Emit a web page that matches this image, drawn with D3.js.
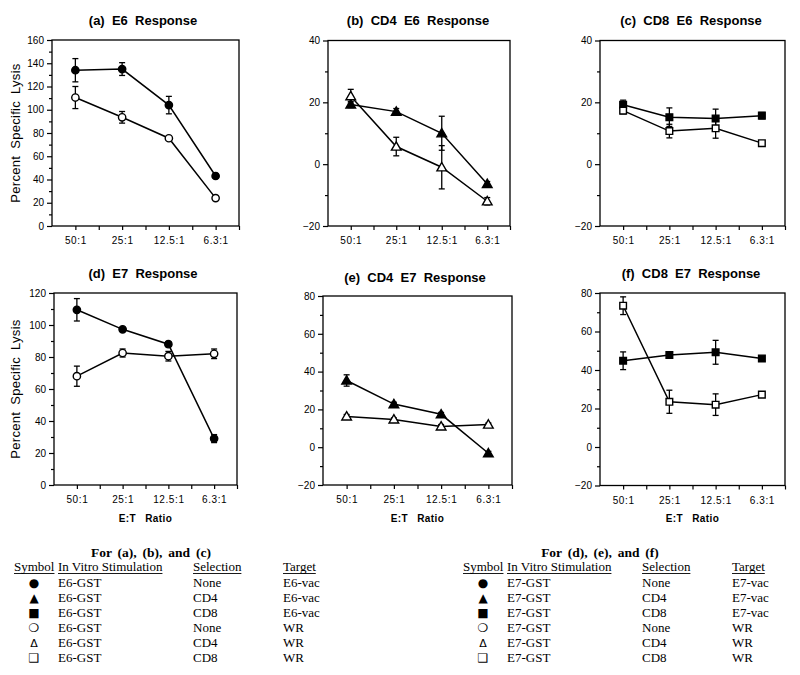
<!DOCTYPE html>
<html><head><meta charset="utf-8">
<script src="https://cdn.jsdelivr.net/npm/d3@7"></script>
<style>
html,body{margin:0;padding:0;background:#fff;}
svg{display:block;}
</style></head>
<body>
<svg id="chart" width="800" height="675"></svg>
<script>
// ---------- data ----------
const ratios = ["50:1", "25:1", "12.5:1", "6.3:1"];

// (a) E6 response
const aNoneE6vac = [134, 135, 104, 43];
const aNoneE6vacErr = [10, 5.5, 7.5, 1];
const aNoneWR = [110.5, 93.5, 75.5, 24];
const aNoneWRErr = [9.5, 5, 1.5, 1];
// (b) CD4 E6 response
const bCD4E6vac = [19.3, 17, 10, -6.4];
const bCD4E6vacErr = [1, 1, 5.5, 0.8];
const bCD4WR = [22, 5.7, -1, -12];
const bCD4WRErr = [2.2, 3, 7, 1.2];
// (c) CD8 E6 response
const cCD8E6vac = [19.2, 15.2, 14.8, 15.7];
const cCD8E6vacErr = [1.5, 3, 3, 1];
const cCD8WR = [17.3, 10.7, 11.6, 6.8];
const cCD8WRErr = [1, 2.2, 3.2, 0.8];
// (d) E7 response
const dNoneE7vac = [109.5, 97.3, 88, 29];
const dNoneE7vacErr = [7, 1, 1.5, 2.5];
const dNoneWR = [68, 82.5, 80.5, 82];
const dNoneWRErr = [6.3, 2.5, 3, 3];
// (e) CD4 E7 response
const eCD4E7vac = [35.3, 22.8, 17.4, -3.2];
const eCD4E7vacErr = [3, 1, 1, 1];
const eCD4WR = [16.3, 14.7, 11, 12];
const eCD4WRErr = [1, 0.8, 1, 0.8];
// (f) CD8 E7 response
const fCD8E7vac = [44.8, 47.8, 49.2, 46];
const fCD8E7vacErr = [4.6, 1, 6.2, 0.8];
const fCD8WR = [73.4, 23.5, 22, 27.2];
const fCD8WRErr = [4.6, 6, 5.6, 1];

const panelTitles = ["(a)  E6  Response", "(b)  CD4  E6  Response", "(c)  CD8  E6  Response",
                     "(d)  E7  Response", "(e)  CD4  E7  Response", "(f)  CD8  E7  Response"];
const yDomains = [[0, 160], [-20, 40], [-20, 40], [0, 120], [-20, 80], [-20, 80]];

const legendHeaders = ["Symbol", "In Vitro Stimulation", "Selection", "Target"];
const legendSymbols = ["●", "▲", "■", "❍", "Δ", "❑"];
const legendSelection = ["None", "CD4", "CD8", "None", "CD4", "CD8"];
const legendTitlesE6 = "For (a), (b), and (c)";
const legendTitlesE7 = "For (d), (e), and (f)";
const legendStimE6 = "E6-GST", legendStimE7 = "E7-GST";
const legendTargetE6 = ["E6-vac", "E6-vac", "E6-vac", "WR", "WR", "WR"];
const legendTargetE7 = ["E7-vac", "E7-vac", "E7-vac", "WR", "WR", "WR"];

// ---------- layout ----------
const boxes = [
  {l: 52, r: 239, t: 40, b: 226, tx: 143, ty: 25},
  {l: 328, r: 510, t: 40.5, b: 226, tx: 418, ty: 25},
  {l: 600, r: 785, t: 40.5, b: 226, tx: 691, ty: 25},
  {l: 54, r: 237, t: 293, b: 485, tx: 143, ty: 278},
  {l: 323, r: 512, t: 296, b: 485, tx: 415, ty: 282},
  {l: 600, r: 785, t: 293, b: 485.5, tx: 691, ty: 278}
];

const panelSeries = [
  [{v: aNoneE6vac, e: aNoneE6vacErr, shape: "circle", fill: true}, {v: aNoneWR, e: aNoneWRErr, shape: "circle", fill: false}],
  [{v: bCD4E6vac, e: bCD4E6vacErr, shape: "triangle", fill: true}, {v: bCD4WR, e: bCD4WRErr, shape: "triangle", fill: false}],
  [{v: cCD8E6vac, e: cCD8E6vacErr, shape: "square", fill: true}, {v: cCD8WR, e: cCD8WRErr, shape: "square", fill: false}],
  [{v: dNoneE7vac, e: dNoneE7vacErr, shape: "circle", fill: true}, {v: dNoneWR, e: dNoneWRErr, shape: "circle", fill: false}],
  [{v: eCD4E7vac, e: eCD4E7vacErr, shape: "triangle", fill: true}, {v: eCD4WR, e: eCD4WRErr, shape: "triangle", fill: false}],
  [{v: fCD8E7vac, e: fCD8E7vacErr, shape: "square", fill: true}, {v: fCD8WR, e: fCD8WRErr, shape: "square", fill: false}]
];

const svg = d3.select("#chart");
const sans = "'Liberation Sans', Arial, Helvetica, sans-serif";
const serif = "'Liberation Serif', 'Times New Roman', serif";

const symSize = {circle: 42, triangle: 40, square: 44};
const symType = {circle: d3.symbolCircle, triangle: d3.symbolTriangle, square: d3.symbolSquare};

boxes.forEach((bx, i) => {
  const g = svg.append("g");
  const x = d3.scaleLinear().domain([-0.5, 3.5]).range([bx.l, bx.r]);
  const y = d3.scaleLinear().domain(yDomains[i]).range([bx.b, bx.t]);

  // frame
  g.append("rect").attr("x", bx.l).attr("y", bx.t).attr("width", bx.r - bx.l).attr("height", bx.b - bx.t)
    .attr("fill", "none").attr("stroke", "#000").attr("stroke-width", 1.3);

  // y axis: major + minor
  const [y0, y1] = yDomains[i];
  const major = d3.range(y0, y1 + 0.1, 20);
  const minor = d3.range(y0 + 10, y1, 20);
  const yAx = g.append("g").attr("transform", `translate(${bx.l},0)`)
    .call(d3.axisLeft(y).tickValues(major).tickSize(5).tickPadding(3).tickFormat(d3.format("d")));
  yAx.select(".domain").remove();
  yAx.selectAll("text").attr("font-family", sans).attr("font-size", 10).attr("fill", "#000");
  yAx.selectAll("line").attr("stroke-width", 1.2);
  const yMin = g.append("g").attr("transform", `translate(${bx.l},0)`)
    .call(d3.axisLeft(y).tickValues(minor).tickSize(3).tickFormat(""));
  yMin.select(".domain").remove();
  yMin.selectAll("line").attr("stroke-width", 1.2);

  // x axis
  const xAx = g.append("g").attr("transform", `translate(0,${bx.b})`)
    .call(d3.axisBottom(x).tickValues([0, 1, 2, 3]).tickSize(4).tickPadding(7).tickFormat(d => ratios[d]));
  xAx.select(".domain").remove();
  xAx.selectAll("text").attr("font-family", sans).attr("font-size", 10).attr("letter-spacing", 0.6).attr("fill", "#000");
  xAx.selectAll("line").attr("stroke-width", 1.2);
  const xMin = g.append("g").attr("transform", `translate(0,${bx.b})`)
    .call(d3.axisBottom(x).tickValues([0.5, 1.5, 2.5, 3.5]).tickSize(4).tickFormat(""));
  xMin.select(".domain").remove();
  xMin.selectAll("line").attr("stroke-width", 1.2);

  // title
  svg.append("text").attr("x", bx.tx).attr("y", bx.ty).attr("text-anchor", "middle")
    .attr("font-family", sans).attr("font-weight", "bold").attr("font-size", 13)
    .style("white-space", "pre").text(panelTitles[i]);

  // series
  panelSeries[i].forEach(s => {
    const pts = s.v.map((v, k) => ({k, v, e: s.e[k]}));
    g.append("path").datum(pts)
      .attr("d", d3.line().x(d => x(d.k)).y(d => y(d.v)))
      .attr("fill", "none").attr("stroke", "#000").attr("stroke-width", 1.5);
    const eb = g.append("g");
    pts.forEach(d => {
      const xc = x(d.k), yt = y(d.v + d.e), yb = y(d.v - d.e);
      eb.append("line").attr("x1", xc).attr("x2", xc).attr("y1", yt).attr("y2", yb).attr("stroke", "#000").attr("stroke-width", 1.3);
      [yt, yb].forEach(yy => eb.append("line").attr("x1", xc - 3).attr("x2", xc + 3).attr("y1", yy).attr("y2", yy)
        .attr("stroke", "#000").attr("stroke-width", 1.3));
    });
    g.selectAll(null).data(pts).enter().append("path")
      .attr("d", d3.symbol().type(symType[s.shape]).size(symSize[s.shape]))
      .attr("transform", d => `translate(${x(d.k)},${y(d.v) + (s.shape === "triangle" ? 0.8 : 0)})`)
      .attr("fill", s.fill ? "#000" : "#fff").attr("stroke", "#000").attr("stroke-width", 1.4);
  });

  // E:T Ratio labels on bottom row
  if (i >= 3) {
    svg.append("text").attr("x", (bx.l + bx.r) / 2).attr("y", 522).attr("text-anchor", "middle")
      .attr("font-family", sans).attr("font-weight", "bold").attr("font-size", 10)
      .attr("word-spacing", 6).attr("letter-spacing", 0.4).text("E:T Ratio");
  }
  // Y label on left column
  if (i === 0 || i === 3) {
    const cy = (bx.t + bx.b) / 2;
    svg.append("text").attr("transform", `translate(20,${cy}) rotate(-90)`).attr("text-anchor", "middle")
      .attr("font-family", sans).attr("font-size", 13).attr("word-spacing", 3).attr("letter-spacing", 0.3)
      .text("Percent Specific Lysis");
  }
});

// ---------- legend tables ----------
function legend(dx, title, stim, targets) {
  const g = svg.append("g").attr("transform", `translate(${dx},0)`);
  g.append("text").attr("x", 151).attr("y", 557).attr("text-anchor", "middle")
    .attr("font-family", serif).attr("font-weight", "bold").attr("font-size", 13.5)
    .attr("word-spacing", 2.5).text(title);
  const cols = [14, 58, 193, 283];
  legendHeaders.forEach((h, j) => {
    const t = g.append("text").attr("x", cols[j]).attr("y", 571).attr("font-family", serif)
      .attr("font-size", 13).text(h);
    const w = t.node().getComputedTextLength();
    g.append("line").attr("x1", cols[j]).attr("x2", cols[j] + w).attr("y1", 573.5).attr("y2", 573.5)
      .attr("stroke", "#000").attr("stroke-width", 0.9);
  });
  legendSymbols.forEach((s, r) => {
    const yy = 587 + r * 14.9;
    g.append("text").attr("x", 34).attr("y", yy).attr("text-anchor", "middle")
      .attr("font-family", "'DejaVu Sans', sans-serif").attr("font-size", r === 4 ? 11 : 12).text(s);
    g.append("text").attr("x", cols[1]).attr("y", yy).attr("font-family", serif).attr("font-size", 13).text(stim);
    g.append("text").attr("x", cols[2]).attr("y", yy).attr("font-family", serif).attr("font-size", 13).text(legendSelection[r]);
    g.append("text").attr("x", cols[3]).attr("y", yy).attr("font-family", serif).attr("font-size", 13).text(targets[r]);
  });
}
legend(0, legendTitlesE6, legendStimE6, legendTargetE6);
legend(449, legendTitlesE7, legendStimE7, legendTargetE7);
</script>
</body></html>
